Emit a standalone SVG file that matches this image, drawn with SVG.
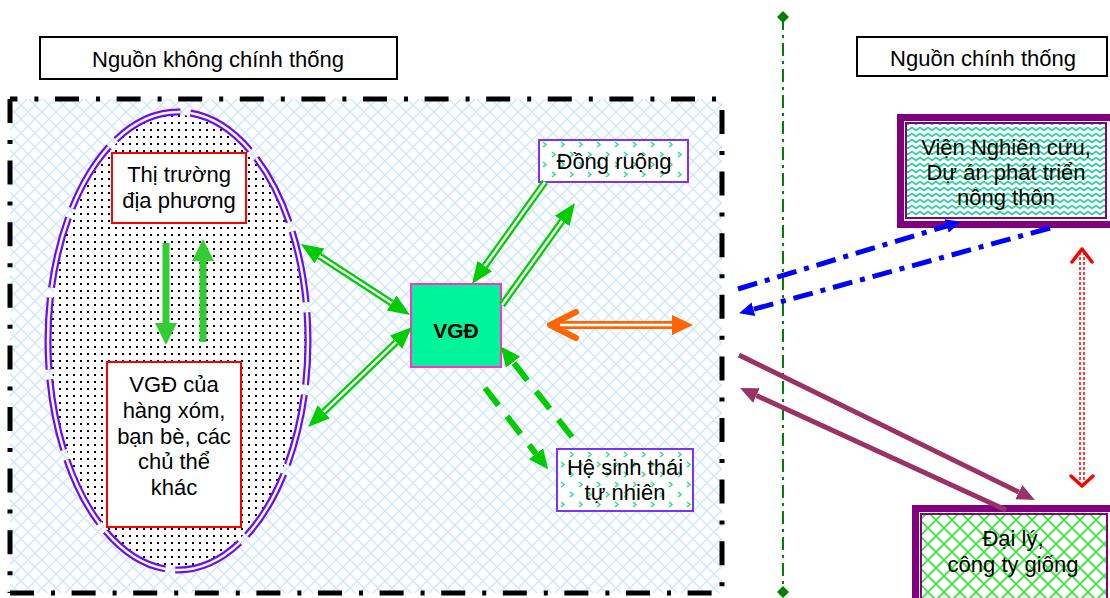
<svg xmlns="http://www.w3.org/2000/svg" width="1110" height="598" viewBox="0 0 1110 598">
<defs>
<style>
text { font-family: "Liberation Sans", Arial, sans-serif; font-size: 22px; fill: #000; text-anchor: middle; }
.frame { fill: none; stroke: #000; stroke-width: 5; stroke-dasharray: 24 17 4 16.6; }
.lbl { fill: #fff; stroke: #000; stroke-width: 2; }
.red { fill: #fff; stroke: #ff0000; stroke-width: 2; }
.pbox { stroke: #7a33ff; stroke-width: 2; fill: url(#chev); }
.gdbl { fill: none; stroke: #00cc00; stroke-width: 7; }
.gin { fill: none; stroke: #fff; stroke-width: 2.5; }
.gdash { fill: none; stroke: #00cc00; stroke-width: 6; stroke-dasharray: 22 14; }
.blue { fill: none; stroke: #0000ff; stroke-width: 5; stroke-dasharray: 20 8 5 8; }
.maroon { fill: none; stroke: #993366; stroke-width: 5; }
.outerP { fill: #fff; stroke: #800080; stroke-width: 7; }
.innerP { stroke: #800080; stroke-width: 2; }
</style>
<pattern id="bg" width="14" height="14" patternUnits="userSpaceOnUse">
<rect width="14" height="14" fill="#fff"/>
<path d="M-1,-1 L15,15 M15,-1 L-1,15" stroke="#cfe9ff" stroke-width="1.5"/>
</pattern>
<pattern id="dots" width="7" height="7" patternUnits="userSpaceOnUse">
<rect width="7" height="7" fill="#fff"/>
<rect x="3" y="3" width="2" height="2" fill="#000"/>
</pattern>
<pattern id="chev" width="18" height="20" patternUnits="userSpaceOnUse">
<rect width="18" height="20" fill="#fff"/>
<path d="M3,2 L6,4.5 L3,7 M12,12 L15,14.5 L12,17" fill="none" stroke="#33dd99" stroke-width="1.6"/>
</pattern>
<pattern id="zig" width="8" height="6" patternUnits="userSpaceOnUse">
<rect width="8" height="6" fill="#fff"/>
<path d="M-4,4.5 L0,1.5 L4,4.5 L8,1.5 L12,4.5" fill="none" stroke="#1fd39a" stroke-width="1.6"/>
</pattern>
<pattern id="lat" width="16" height="16" patternUnits="userSpaceOnUse">
<rect width="16" height="16" fill="#fff"/>
<path d="M-1,-1 L17,17 M17,-1 L-1,17" stroke="#33e633" stroke-width="1.6"/>
</pattern>
<marker id="gHead" markerUnits="userSpaceOnUse" markerWidth="24" markerHeight="24" viewBox="0 -12 24 24" refX="0" refY="0" orient="auto-start-reverse">
<path d="M0,-9 L22,0 L0,9 z" fill="#00cc00"/>
</marker>
<marker id="gdHead" markerUnits="userSpaceOnUse" markerWidth="24" markerHeight="24" viewBox="0 -12 24 24" refX="0" refY="0" orient="auto">
<path d="M0,-9 L20,0 L0,9 z" fill="#00cc00"/>
</marker>
<marker id="bHead" markerUnits="userSpaceOnUse" markerWidth="20" markerHeight="20" viewBox="0 -10 20 20" refX="0" refY="0" orient="auto">
<path d="M0,-7 L15,0 L0,7 z" fill="#0000ff"/>
</marker>
<marker id="mHead" markerUnits="userSpaceOnUse" markerWidth="22" markerHeight="22" viewBox="0 -11 22 22" refX="0" refY="0" orient="auto">
<path d="M0,-8 L18,0 L0,8 z" fill="#993366"/>
</marker>
<marker id="dia" markerUnits="userSpaceOnUse" markerWidth="14" markerHeight="14" viewBox="-7 -7 14 14" refX="0" refY="0" orient="auto">
<path d="M0,-6 L6,0 L0,6 L-6,0 z" fill="#008000"/>
</marker>
</defs>

<rect width="1110" height="598" fill="#fff"/>

<g id="frame-informal">
<rect x="10" y="99" width="712" height="494" fill="url(#bg)"/>
<path class="frame" d="M10,99 H722" stroke-dashoffset="16.6"/>
<path class="frame" d="M10,99 V593"/>
<path class="frame" d="M10,593 H722"/>
<path class="frame" d="M722,99 V593" stroke-dashoffset="50.6"/>
</g>

<g id="label-informal">
<rect class="lbl" x="40" y="37" width="357" height="42"/>
<text x="218" y="67">Nguồn không chính thống</text>
</g>

<g id="label-formal">
<rect class="lbl" x="857" y="37" width="250" height="39"/>
<text x="983" y="66">Nguồn chính thống</text>
</g>

<g id="divider">
<path d="M783,17 V592" stroke="#008000" stroke-width="2" stroke-dasharray="13 5 3 5" fill="none" marker-start="url(#dia)" marker-end="url(#dia)"/>
</g>

<g id="local-group">
<ellipse cx="178" cy="341" rx="127" ry="226" fill="url(#dots)"/>
<ellipse cx="178" cy="341" rx="130" ry="229" fill="none" stroke="#6a10f0" stroke-width="7" stroke-dasharray="72 10" stroke-dashoffset="28"/>
<ellipse cx="178" cy="341" rx="130" ry="229" fill="none" stroke="#fff" stroke-width="2.5" stroke-dasharray="72 10" stroke-dashoffset="28"/>
</g>

<g id="node-market">
<rect class="red" x="112" y="153" width="134" height="70"/>
<text x="179" y="182">Thị trường</text>
<text x="179" y="208">địa phương</text>
</g>

<g id="node-neighbors">
<rect class="red" x="107" y="362" width="134" height="165"/>
<text x="174" y="392">VGĐ của</text>
<text x="174" y="418">hàng xóm,</text>
<text x="174" y="443.5">bạn bè, các</text>
<text x="174" y="469">chủ thể</text>
<text x="174" y="495">khác</text>
</g>

<g id="node-vgd">
<rect x="411" y="284" width="90" height="83" fill="#00f59a" stroke="#ff33cc" stroke-width="2"/>
<text x="456" y="338" style="font-weight:bold;font-size:21px">VGĐ</text>
</g>

<g id="node-field">
<rect class="pbox" x="539" y="140" width="149" height="42"/>
<text x="614" y="169">Đồng ruộng</text>
</g>

<g id="node-ecosystem">
<rect class="pbox" x="557" y="449" width="136" height="62"/>
<text x="625" y="475">Hệ sinh thái</text>
<text x="625" y="500">tự nhiên</text>
</g>

<g id="node-institute">
<rect class="outerP" x="900.5" y="117.5" width="220" height="107"/>
<rect class="innerP" x="906" y="123" width="200" height="95" fill="url(#zig)"/>
<text x="1006" y="155">Viện Nghiên cứu,</text>
<text x="1006" y="180">Dự án phát triển</text>
<text x="1006" y="205">nông thôn</text>
</g>

<g id="node-dealer">
<rect class="outerP" x="915.5" y="508.5" width="210" height="110"/>
<rect class="innerP" x="921" y="514" width="186" height="100" fill="url(#lat)"/>
<text x="1013" y="546">Đại lý,</text>
<text x="1013" y="572">công ty giống</text>
</g>

<g id="connectors">
<polygon points="162.5,243 169.5,243 169.5,323 177,323 166,345 155,323 162.5,323" fill="#33cc33"/>
<polygon points="199.5,342 206.5,342 206.5,261 214,261 203,239 192,261 199.5,261" fill="#33cc33"/>

<path class="gdbl" d="M319.4,256 L391.6,303" marker-start="url(#gHead)" marker-end="url(#gHead)"/>
<path class="gin" d="M319.4,256 L391.6,303"/>
<path class="gdbl" d="M323.9,411.8 L396.1,342.2" marker-start="url(#gHead)" marker-end="url(#gHead)"/>
<path class="gin" d="M323.9,411.8 L396.1,342.2"/>
<path class="gdbl" d="M545,182 L484.8,266.1" marker-end="url(#gHead)"/>
<path class="gin" d="M545,182 L484.8,266.1"/>
<path class="gdbl" d="M502,305 L562.2,220.9" marker-end="url(#gHead)"/>
<path class="gin" d="M502,305 L562.2,220.9"/>

<path class="gdash" d="M572,437 L513.1,362.1" marker-end="url(#gdHead)"/>
<path class="gdash" d="M485,388 L536,453.8" marker-end="url(#gdHead)"/>

<path d="M556,325 H673" stroke="#ff6600" stroke-width="8" fill="none"/>
<path d="M560,325 H673" stroke="#fff" stroke-width="2.5" fill="none"/>
<polygon points="693,325 672,315 672,335" fill="#ff6600"/>
<polyline points="576,312 550,325 576,338" fill="none" stroke="#ff6600" stroke-width="6" stroke-linecap="round" stroke-linejoin="round"/>

<path class="blue" d="M738,289 L946.6,226" marker-end="url(#bHead)"/>
<path class="blue" d="M1050,228 L753.5,309.3" marker-end="url(#bHead)"/>

<path class="maroon" d="M739,355 L1018.8,492.1" marker-end="url(#mHead)"/>
<path class="maroon" d="M1006,510 L756.4,395.5" marker-end="url(#mHead)"/>

<path d="M1080,252 V482 M1084,252 V482" stroke="#ff0000" stroke-width="1.5" stroke-dasharray="3 2" fill="none"/>
<polyline points="1072,262 1082,249 1092,262" fill="none" stroke="#ff0000" stroke-width="3.5" stroke-linecap="round" stroke-linejoin="round"/>
<polyline points="1071,476 1082,486 1093,476" fill="none" stroke="#ff0000" stroke-width="3.5" stroke-linecap="round" stroke-linejoin="round"/>
</g>
</svg>
